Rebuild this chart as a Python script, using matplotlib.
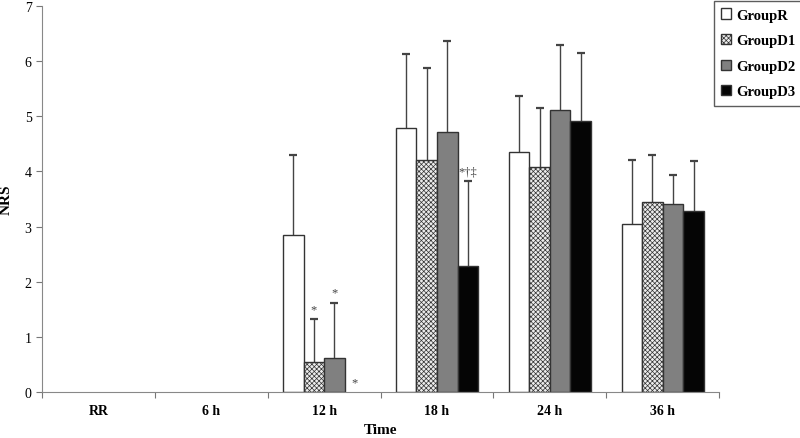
import matplotlib
matplotlib.use("Agg")
import matplotlib.pyplot as plt
import numpy as np

plt.rcParams['font.family'] = ['Liberation Serif', 'DejaVu Serif']
plt.rcParams['hatch.linewidth'] = 0.5
plt.rcParams['hatch.color'] = '#b4b4b4'

categories = ["RR", "6 h", "12 h", "18 h", "24 h", "36 h"]
groups = ["GroupR", "GroupD1", "GroupD2", "GroupD3"]
means = {
    "GroupR":  [0, 0, 2.84, 4.78, 4.35, 3.04],
    "GroupD1": [0, 0, 0.54, 4.20, 4.08, 3.44],
    "GroupD2": [0, 0, 0.61, 4.72, 5.12, 3.40],
    "GroupD3": [0, 0, 0.00, 2.28, 4.92, 3.28],
}
sds = {
    "GroupR":  [0, 0, 1.45, 1.35, 1.02, 1.16],
    "GroupD1": [0, 0, 0.78, 1.68, 1.07, 0.85],
    "GroupD2": [0, 0, 1.01, 1.64, 1.17, 0.54],
    "GroupD3": [0, 0, 0.00, 1.54, 1.23, 0.90],
}
# significance marks: (category index, group index, text)
marks = [(2, 1, "*"), (2, 2, "*"), (2, 3, "*"), (3, 3, "*†‡")]

styles = {
    "GroupR":  dict(facecolor="white", hatch=None),
    "GroupD1": dict(facecolor="#ececec", hatch="xxxxxxx"),
    "GroupD2": dict(facecolor="#808080", hatch=None),
    "GroupD3": dict(facecolor="#050505", hatch=None),
}

fig = plt.figure(figsize=(8, 4.39), dpi=100)
ax = fig.add_axes([0.0525, 0.105, 0.8465, 0.879])

n = len(categories)
bw = 0.182
offsets = (np.arange(4) - 1.5) * bw
centers = np.arange(n) + 0.5
for gi, g in enumerate(groups):
    x = centers + offsets[gi]
    m = np.array(means[g])
    s = np.array(sds[g])
    st = styles[g]
    mask = m > 0
    ax.bar(x[mask], m[mask], width=bw, facecolor=st["facecolor"], edgecolor="#333333",
           linewidth=1.0, hatch=st["hatch"], label=g, zorder=2)
    ax.errorbar(x[mask], m[mask] + s[mask] / 2, yerr=s[mask] / 2, fmt="none",
                ecolor="#444444", elinewidth=1.0, capsize=0, zorder=1)
    ax.plot(x[mask], m[mask] + s[mask], linestyle="none", marker="_", markersize=6,
            markeredgewidth=1.6, color="#444444", zorder=1)

for ci, gi, txt in marks:
    g = groups[gi]
    top = means[g][ci] + sds[g][ci]
    ax.text(centers[ci] + offsets[gi], top + 0.07, txt, ha="center", va="bottom",
            fontsize=9, color="#444444")

ax.set_xlim(0, n)
ax.set_ylim(0, 7)
ax.set_yticks(range(8))
ax.set_xticks(range(n + 1))
ax.set_xticklabels([])
ax.set_xticks(centers, minor=True)
ax.set_xticklabels(categories, minor=True, fontweight="bold", fontsize=10)
ax.tick_params(axis="x", which="minor", length=0, pad=9)
ax.tick_params(axis="x", which="major", length=4, direction="out", color="#777777")
ax.tick_params(axis="y", length=4, direction="out", color="#777777", labelsize=10)
for sp in ["top", "right"]:
    ax.spines[sp].set_visible(False)
for sp in ["left", "bottom"]:
    ax.spines[sp].set_color("#888888")
ax.set_ylabel("NRS", fontweight="bold", fontsize=11)
ax.set_xlabel("Time", fontweight="bold", fontsize=11)
ax.yaxis.set_label_coords(-0.044, 0.5)
ax.xaxis.set_label_coords(0.5, -0.08)

leg = fig.legend(loc="upper right", bbox_to_anchor=(1.012, 1.012), prop=dict(weight="bold", size=10.5),
                 handlelength=0.7, handleheight=0.7, handletextpad=0.3, labelspacing=0.85,
                 frameon=True, fancybox=False, edgecolor="#333333", borderpad=0.5)
leg.get_frame().set_linewidth(1.0)

fig.savefig("out.png", dpi=100)
